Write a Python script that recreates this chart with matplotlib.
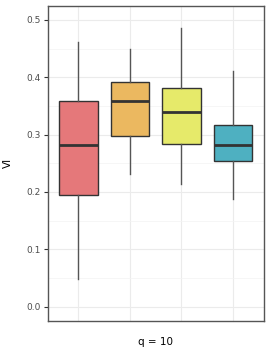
import matplotlib
matplotlib.use("Agg")
import matplotlib.pyplot as plt

groups = ["A", "B", "C", "D"]
whisk_lo = [0.049, 0.231, 0.214, 0.187]
q1 = [0.194, 0.297, 0.284, 0.254]
med = [0.281, 0.358, 0.340, 0.282]
q3 = [0.358, 0.392, 0.382, 0.317]
whisk_hi = [0.461, 0.449, 0.485, 0.411]
colors = ["#E5787A", "#EBB860", "#E6EA6A", "#4EB0C1"]
yticks = [0.0, 0.1, 0.2, 0.3, 0.4, 0.5]

fig = plt.figure(figsize=(2.69, 3.54), dpi=100)
ax_h = (320.7 - 5.5) / 354
ax_w = (263.7 - 47.5) / 269
ax = fig.add_axes([47.5/269, 1 - 320.7/354, ax_w, ax_h])

stats = []
for i in range(len(groups)):
    stats.append(dict(whislo=whisk_lo[i], q1=q1[i], med=med[i], q3=q3[i],
                      whishi=whisk_hi[i], fliers=[], label=groups[i]))
pos = list(range(1, len(groups) + 1))
bp = ax.bxp(stats, positions=pos, widths=0.75, patch_artist=True, showcaps=False,
            boxprops=dict(edgecolor="#333333", linewidth=1.0),
            whiskerprops=dict(color="#555555", linewidth=1.0),
            medianprops=dict(color="#333333", linewidth=2.0),
            zorder=3)
for p, c in zip(bp["boxes"], colors):
    p.set_facecolor(c)

ax.set_xlim(0.4, 4.6)
ax.set_ylim(-0.0245, 0.525)
ax.set_yticks(yticks)
ax.set_yticklabels([f"{t:.1f}" for t in yticks])
ax.set_yticks([0.05, 0.15, 0.25, 0.35, 0.45], minor=True)
ax.set_xticks(pos)
ax.set_xticklabels([""] * len(pos))
ax.grid(True, which="major", color="#EBEBEB", linewidth=0.8, zorder=0)
ax.grid(True, which="minor", axis="y", color="#F3F3F3", linewidth=0.5, zorder=0)
ax.set_axisbelow(True)
ax.tick_params(axis="y", which="major", length=3, width=0.8, color="#333333",
               labelsize=6.5, labelcolor="#4D4D4D", pad=2)
ax.tick_params(axis="y", which="minor", length=0)
ax.tick_params(axis="x", length=0)
for s in ax.spines.values():
    s.set_color("#555555")
    s.set_linewidth(1.0)
ax.set_ylabel("VI", fontsize=7.5, color="black")
ax.set_xlabel("q = 10", fontsize=7.5, color="black")
ax.xaxis.set_label_coords(0.5, (320.7 - 342) / (ax_h * 354))
ax.yaxis.set_label_coords((8 - 47.5) / (ax_w * 269), 0.5)
ax.xaxis.label.set_va("center")
ax.yaxis.label.set_va("center")

fig.savefig("out.png", dpi=100)
